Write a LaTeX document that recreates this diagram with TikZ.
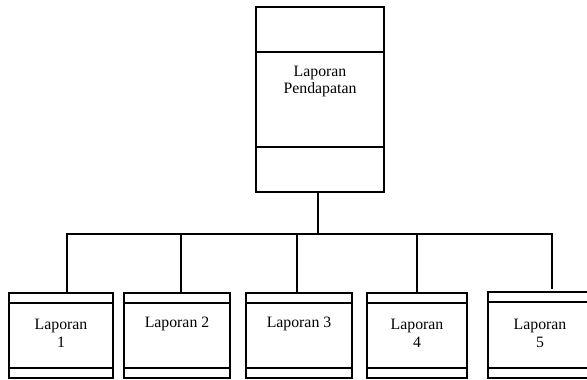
\documentclass[tikz,border=0pt]{standalone}
\usepackage{fontspec}
\setmainfont{Liberation Serif}
\begin{document}
\begin{tikzpicture}[x=1pt,y=-1pt,
  box/.style={draw,line width=1.5pt,inner sep=0pt,outer sep=0pt},
  lbl/.style={inner sep=0pt,align=center,font=\fontsize{15.8}{17.5}\selectfont},
  wire/.style={line width=1.5pt}]
\useasboundingbox (0,0) rectangle (587,380);
% top box
\node[box,minimum width=128pt,minimum height=185pt] (top) at (320,99.5) {};
\draw[wire] ([yshift=-45pt]top.north west) -- ([yshift=-45pt]top.north east);
\draw[wire] ([yshift=45pt]top.south west) -- ([yshift=45pt]top.south east);
\node[lbl] (ttop) at (320,81.5) {Laporan\\Pendapatan};
% bottom boxes
\node[box,minimum width=104pt,minimum height=85pt] (l1) at (61,335.5) {};
\node[box,minimum width=106pt,minimum height=85pt] (l2) at (177,335.5) {};
\node[box,minimum width=106pt,minimum height=85pt] (l3) at (299,335.5) {};
\node[box,minimum width=100pt,minimum height=85pt] (l4) at (417,335.5) {};
\node[box,minimum width=104pt,minimum height=86pt] (l5) at (540,335) {};
\foreach \n in {l1,l2,l3,l4,l5}{
  \draw[wire] ([yshift=-10pt]\n.north west) -- ([yshift=-10pt]\n.north east);
  \draw[wire] ([yshift=10pt]\n.south west) -- ([yshift=10pt]\n.south east);
}
\node[lbl] (t1) at (61,333.5) {Laporan\\1};
\node[lbl] (t2) at (177,324) {Laporan 2};
\node[lbl] (t3) at (299,324) {Laporan 3};
\node[lbl] (t4) at (417,333.5) {Laporan\\4};
\node[lbl] (t5) at (540,333.5) {Laporan\\5};
% connectors
\coordinate (bus) at (318,234);
\coordinate (d1) at (67,234);
\coordinate (d2) at (181,234);
\coordinate (d3) at (297,234);
\coordinate (d4) at (417,234);
\coordinate (d5) at (552,234);
\coordinate (e5) at (552,289);
\draw[wire] (top.south -| bus) -- (bus);
\draw[wire] ([xshift=-0.75pt]d1) -- ([xshift=0.75pt]d5);
\draw[wire] ([yshift=0.75pt]d1) -- (d1 |- l1.north);
\draw[wire] (d2) -- (d2 |- l2.north);
\draw[wire] (d3) -- (d3 |- l3.north);
\draw[wire] (d4) -- (d4 |- l4.north);
\draw[wire] ([yshift=0.75pt]d5) -- (e5);
\end{tikzpicture}
\end{document}
